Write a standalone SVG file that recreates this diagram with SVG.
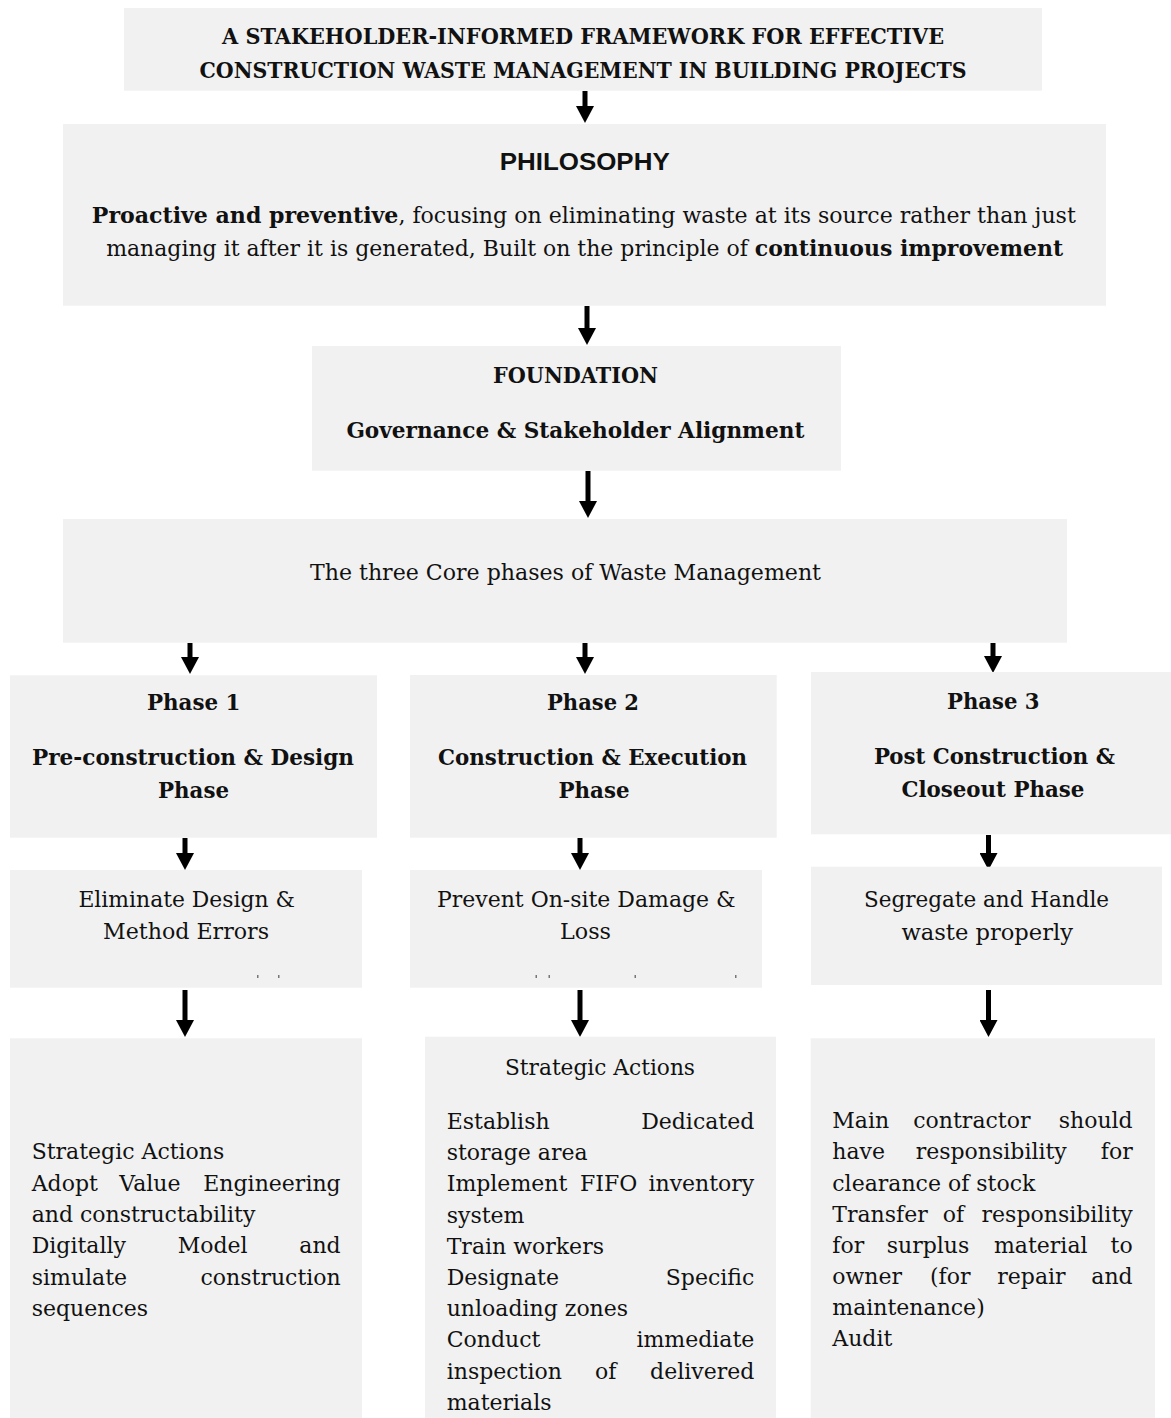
<svg xmlns="http://www.w3.org/2000/svg" width="1171" height="1418" viewBox="0 0 1171 1418">
  <defs>
    <marker id="head" viewBox="0 0 17 18" refX="0" refY="9" markerWidth="17" markerHeight="18" markerUnits="userSpaceOnUse" orient="auto">
      <path d="M0,0 L17,9 L0,18 z" fill="#000"/>
    </marker>
    <style>
      .box { fill: #f1f1f1; }
      .t { font-family: "DejaVu Serif", "Liberation Serif", serif; font-size: 22px; fill: #111; }
      .b { font-weight: bold; }
      .h { font-size: 23px; }
      .c { text-anchor: middle; }
      .e { text-anchor: end; }
      .sans { font-family: "Liberation Sans", Arial, sans-serif; font-weight: bold; font-size: 24px; fill: #111; }
      .conn line { stroke: #000; stroke-width: 5; marker-end: url(#head); }
      .mark { fill: #777; }
    </style>
  </defs>
  <rect width="1171" height="1418" fill="#fff"/>

  <!-- connectors -->
  <g id="connectors" class="conn">
    <line x1="585" y1="91" x2="585" y2="106"/>
    <line x1="587" y1="306" x2="587" y2="328"/>
    <line x1="588" y1="471" x2="588" y2="501"/>
    <line x1="190" y1="643" x2="190" y2="657"/>
    <line x1="585" y1="643" x2="585" y2="657"/>
    <line x1="993" y1="643" x2="993" y2="656"/>
    <line x1="185" y1="838" x2="185" y2="853"/>
    <line x1="580" y1="838" x2="580" y2="853"/>
    <line x1="988.5" y1="835" x2="988.5" y2="853"/>
    <line x1="185" y1="990" x2="185" y2="1020"/>
    <line x1="580" y1="990" x2="580" y2="1020"/>
    <line x1="988.5" y1="990" x2="988.5" y2="1020"/>
  </g>

  <!-- title -->
  <g id="title">
    <rect class="box" x="124" y="8" width="918" height="82.7"/>
    <text class="t b c" x="583" y="44.3" font-size="24" textLength="722" lengthAdjust="spacingAndGlyphs">A STAKEHOLDER-INFORMED FRAMEWORK FOR EFFECTIVE</text>
    <text class="t b c" x="583" y="78.3" font-size="24" textLength="767" lengthAdjust="spacingAndGlyphs">CONSTRUCTION WASTE MANAGEMENT IN BUILDING PROJECTS</text>
  </g>

  <!-- philosophy -->
  <g id="philosophy">
    <rect class="box" x="63" y="124" width="1043" height="181.7"/>
    <text class="sans c" x="584.7" y="170" textLength="170" lengthAdjust="spacingAndGlyphs">PHILOSOPHY</text>
    <text class="t c" x="583.8" y="222.7" textLength="984" lengthAdjust="spacingAndGlyphs"><tspan class="b">Proactive and preventive</tspan>, focusing on eliminating waste at its source rather than just</text>
    <text class="t c" x="584.7" y="256" textLength="957" lengthAdjust="spacingAndGlyphs">managing it after it is generated, Built on the principle of <tspan class="b">continuous improvement</tspan></text>
  </g>

  <!-- foundation -->
  <g id="foundation">
    <rect class="box" x="312" y="346" width="529" height="124.7"/>
    <text class="t b h c" x="575.5" y="383.3" textLength="165" lengthAdjust="spacingAndGlyphs">FOUNDATION</text>
    <text class="t b h c" x="575.4" y="438.3" textLength="458" lengthAdjust="spacingAndGlyphs">Governance &amp; Stakeholder Alignment</text>
  </g>

  <!-- core phases -->
  <g id="core-phases">
    <rect class="box" x="63" y="519" width="1004" height="123.7"/>
    <text class="t c" x="565.5" y="580" textLength="511" lengthAdjust="spacingAndGlyphs">The three Core phases of Waste Management</text>
  </g>

  <!-- phase headers -->
  <g id="phase-1">
    <rect class="box" x="10" y="675.3" width="367" height="162.4"/>
    <text class="t b h c" x="193.7" y="710" textLength="93.5" lengthAdjust="spacingAndGlyphs">Phase 1</text>
    <text class="t b h c" x="193" y="765" textLength="322" lengthAdjust="spacingAndGlyphs">Pre-construction &amp; Design</text>
    <text class="t b h c" x="193.5" y="798.3" textLength="71" lengthAdjust="spacingAndGlyphs">Phase</text>
  </g>
  <g id="phase-2">
    <rect class="box" x="410" y="675" width="366.7" height="162.7"/>
    <text class="t b h c" x="593" y="710" textLength="92" lengthAdjust="spacingAndGlyphs">Phase 2</text>
    <text class="t b h c" x="592.5" y="765" textLength="309" lengthAdjust="spacingAndGlyphs">Construction &amp; Execution</text>
    <text class="t b h c" x="594" y="798.3" textLength="71" lengthAdjust="spacingAndGlyphs">Phase</text>
  </g>
  <g id="phase-3">
    <rect class="box" x="811" y="672" width="360" height="162.3"/>
    <text class="t b h c" x="993.3" y="709" textLength="92.6" lengthAdjust="spacingAndGlyphs">Phase 3</text>
    <text class="t b h c" x="994.4" y="764" textLength="241" lengthAdjust="spacingAndGlyphs">Post Construction &amp;</text>
    <text class="t b h c" x="992.9" y="796.7" textLength="183" lengthAdjust="spacingAndGlyphs">Closeout Phase</text>
  </g>

  <!-- phase goals -->
  <g id="goal-1">
    <rect class="box" x="10" y="870" width="352" height="117.7"/>
    <text class="t c" x="186.7" y="906.7" textLength="216.6" lengthAdjust="spacingAndGlyphs">Eliminate Design &amp;</text>
    <text class="t c" x="186" y="939.3" textLength="166" lengthAdjust="spacingAndGlyphs">Method Errors</text>
    <rect class="mark" x="257" y="975" width="1.5" height="3"/>
    <rect class="mark" x="278" y="975" width="1.5" height="3"/>
  </g>
  <g id="goal-2">
    <rect class="box" x="410" y="870" width="352" height="117.7"/>
    <text class="t c" x="586.3" y="906.7" textLength="298.6" lengthAdjust="spacingAndGlyphs">Prevent On-site Damage &amp;</text>
    <text class="t c" x="585.5" y="939.3" textLength="51" lengthAdjust="spacingAndGlyphs">Loss</text>
    <rect class="mark" x="535.5" y="975" width="1.5" height="3"/>
    <rect class="mark" x="548.5" y="975" width="1.5" height="3"/>
    <rect class="mark" x="634.5" y="975" width="1.5" height="3"/>
    <rect class="mark" x="735" y="975" width="1.5" height="3"/>
  </g>
  <g id="goal-3">
    <rect class="box" x="811" y="866.7" width="351" height="118.3"/>
    <text class="t c" x="986.5" y="906.7" textLength="245" lengthAdjust="spacingAndGlyphs">Segregate and Handle</text>
    <text class="t c" x="987.2" y="940" textLength="171.6" lengthAdjust="spacingAndGlyphs">waste properly</text>
  </g>

  <!-- strategic actions, phase 1 -->
  <g id="actions-1">
    <rect class="box" x="10" y="1038.3" width="352" height="379.7"/>
    <text class="t" x="31.7" y="1159.3">Strategic Actions</text>
    <text class="t" x="31.7" y="1190.6">Adopt</text>
    <text class="t" x="119.3" y="1190.6">Value</text>
    <text class="t e" x="340.7" y="1190.6">Engineering</text>
    <text class="t" x="31.7" y="1221.9">and constructability</text>
    <text class="t" x="31.7" y="1253.2">Digitally</text>
    <text class="t" x="177.7" y="1253.2">Model</text>
    <text class="t e" x="340.7" y="1253.2">and</text>
    <text class="t" x="31.7" y="1284.5">simulate</text>
    <text class="t e" x="340.7" y="1284.5">construction</text>
    <text class="t" x="31.7" y="1315.8">sequences</text>
  </g>

  <!-- strategic actions, phase 2 -->
  <g id="actions-2">
    <rect class="box" x="425" y="1036.7" width="351" height="381.3"/>
    <text class="t c" x="600" y="1075" textLength="190" lengthAdjust="spacingAndGlyphs">Strategic Actions</text>
    <text class="t" x="446.7" y="1129">Establish</text>
    <text class="t e" x="754.3" y="1129">Dedicated</text>
    <text class="t" x="446.7" y="1160.2">storage area</text>
    <text class="t" x="446.7" y="1191.4">Implement</text>
    <text class="t" x="580" y="1191.4">FIFO</text>
    <text class="t e" x="754.3" y="1191.4">inventory</text>
    <text class="t" x="446.7" y="1222.6">system</text>
    <text class="t" x="446.7" y="1253.8">Train workers</text>
    <text class="t" x="446.7" y="1285">Designate</text>
    <text class="t e" x="754.3" y="1285">Specific</text>
    <text class="t" x="446.7" y="1316.2">unloading zones</text>
    <text class="t" x="446.7" y="1347.4">Conduct</text>
    <text class="t e" x="754.3" y="1347.4">immediate</text>
    <text class="t" x="446.7" y="1378.6">inspection</text>
    <text class="t" x="595" y="1378.6">of</text>
    <text class="t e" x="754.3" y="1378.6">delivered</text>
    <text class="t" x="446.7" y="1409.8">materials</text>
  </g>

  <!-- strategic actions, phase 3 -->
  <g id="actions-3">
    <rect class="box" x="810.7" y="1038.3" width="344.3" height="379.7"/>
    <text class="t" x="832.3" y="1128.3">Main</text>
    <text class="t" x="913.3" y="1128.3">contractor</text>
    <text class="t e" x="1132.7" y="1128.3">should</text>
    <text class="t" x="832.3" y="1159.4">have</text>
    <text class="t" x="915.7" y="1159.4">responsibility</text>
    <text class="t e" x="1132.7" y="1159.4">for</text>
    <text class="t" x="832.3" y="1190.5">clearance of stock</text>
    <text class="t" x="832.3" y="1221.6">Transfer</text>
    <text class="t" x="942.7" y="1221.6">of</text>
    <text class="t e" x="1132.7" y="1221.6">responsibility</text>
    <text class="t" x="832.3" y="1252.7">for</text>
    <text class="t" x="886.7" y="1252.7">surplus</text>
    <text class="t" x="994" y="1252.7">material</text>
    <text class="t e" x="1132.7" y="1252.7">to</text>
    <text class="t" x="832.3" y="1283.8">owner</text>
    <text class="t" x="930" y="1283.8">(for</text>
    <text class="t" x="997.3" y="1283.8">repair</text>
    <text class="t e" x="1132.7" y="1283.8">and</text>
    <text class="t" x="832.3" y="1314.9">maintenance)</text>
    <text class="t" x="832.3" y="1346">Audit</text>
  </g>
</svg>
